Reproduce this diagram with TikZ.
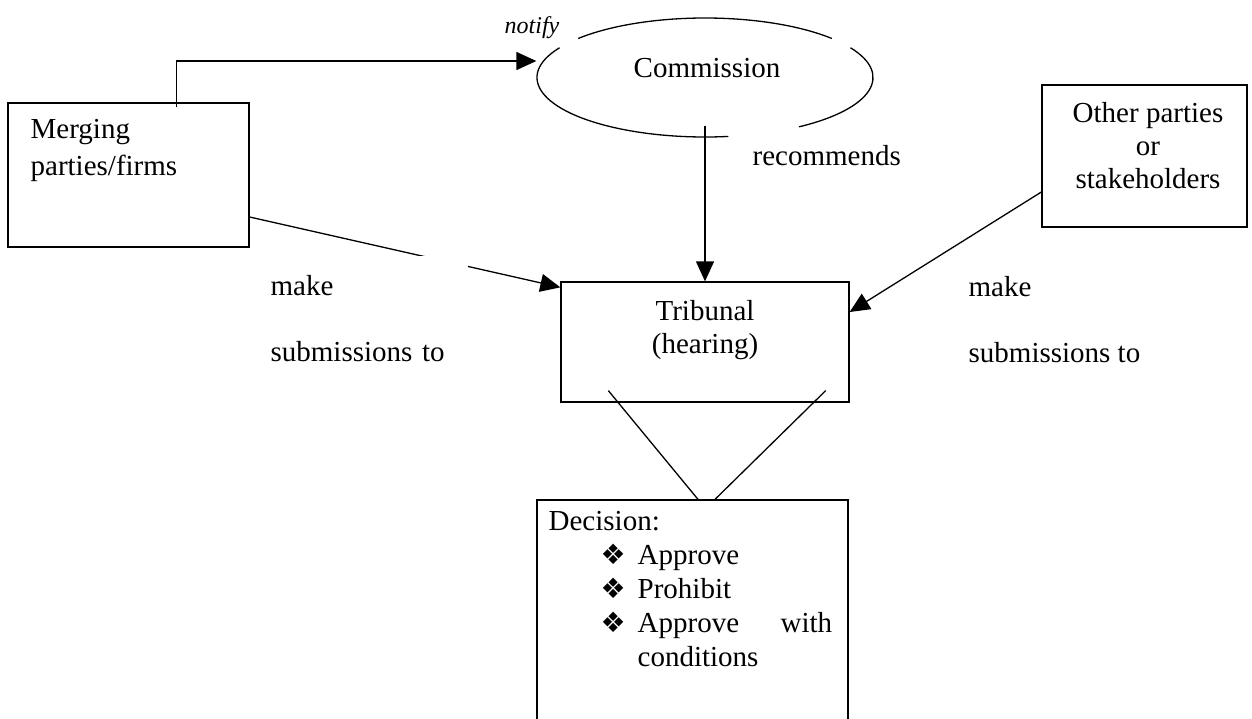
\documentclass[tikz,border=0pt]{standalone}
\usepackage{fontspec}
\setmainfont{Liberation Serif}
\newfontfamily\dejavu{DejaVu Sans}
\usetikzlibrary{arrows.meta,shapes.geometric}

\newcommand{\bul}{\makebox[18.5pt][l]{\dejavu\fontsize{14}{14}\selectfont ❖}}

\tikzset{
  box/.style={draw, rectangle, inner sep=0pt},
  txt/.style={font=\fontsize{14.5}{16.5}\selectfont, inner sep=0pt},
  arr/.style={-{Triangle[length=10pt,width=9pt]}},
}

\begin{document}
\begin{tikzpicture}[x=0.5pt,y=-0.5pt,line width=0.65pt]
\useasboundingbox (0,0) rectangle (1252,718);

% Draw the boxes and the commission ellipse
\node[box, minimum width=120.5pt, minimum height=72pt] (merging) at (128.5,175) {};
\node[box, minimum width=102.5pt, minimum height=71pt] (other) at (1144.5,156) {};
\node[box, minimum width=144pt, minimum height=60pt] (tribunal) at (705,342) {};
\node[box, minimum width=155.5pt, minimum height=120pt] (decision) at (692.5,620) {};
\node[ellipse, minimum width=168pt, minimum height=59.5pt, inner sep=0pt] (comm) at (705,77.5) {};

% The ellipse is broken where the text boxes lie over it
\draw (comm.center) ++(41:84pt and 29.75pt)
  arc[start angle=41, end angle=139, x radius=84pt, y radius=29.75pt];
\draw (comm.center) ++(150:84pt and 29.75pt)
  arc[start angle=150, end angle=278, x radius=84pt, y radius=29.75pt];
\draw (comm.center) ++(304:84pt and 29.75pt)
  arc[start angle=304, end angle=390, x radius=84pt, y radius=29.75pt];

% Draw the arrows
\draw[arr] ([xshift=84.5pt,yshift=-2.5pt]merging.north west) |- ([yshift=8.25pt]comm.west);
\draw[arr] ([yshift=6pt]comm.south) -- (tribunal.north);
\draw[arr] ([yshift=-21pt]merging.east) -- ([yshift=-3pt]tribunal.north west);
\draw[arr] ([yshift=-18pt]other.west) -- ([yshift=15pt]tribunal.east);

% Lines from the tribunal down to the decision
\draw ([xshift=24pt,yshift=6pt]tribunal.south west) -- ([xshift=2.75pt]decision.north);
\draw ([xshift=-12pt,yshift=6pt]tribunal.south east) -- ([xshift=11.25pt]decision.north);

% Labels (multi-line ones sit on the baseline of their last line,
% the one with a text width on its first line)
\node[txt, font=\fontsize{12}{14}\selectfont, anchor=base] (notifylbl) at (532,33) {\itshape notify};
\node[txt, anchor=base] (commlbl) at (707,77) {Commission};
\node[txt, anchor=base west] (reclbl) at (752,165) {recommends};
\node[txt, anchor=base west, align=left] (merginglbl) at (30,175) {Merging\\[2pt]parties/firms};
\node[txt, anchor=base, align=center] (otherlbl) at (1148,188) {Other parties\\or\\stakeholders};
\node[txt, anchor=base, align=center] (tribunallbl) at (705,353) {Tribunal\\(hearing)};
\node[txt, anchor=base west, align=left, fill=white, text width=94.5pt,
      inner xsep=4pt, inner ysep=9.5pt] (makeleft) at (262,295) {make\\[16.5pt]submissions to};
\node[txt, anchor=base west, align=left] (makeright) at (968,362) {make\\[16.5pt]submissions to};
\node[txt, font=\fontsize{14.5}{17}\selectfont, anchor=base west, align=left] (decisionlbl) at (548,666)
  {Decision:\\
   \hspace*{26pt}\bul Approve\\
   \hspace*{26pt}\bul Prohibit\\
   \hspace*{26pt}\bul \makebox[71.5pt][l]{Approve}with\\
   \hspace*{44.5pt}conditions};

\end{tikzpicture}
\end{document}
